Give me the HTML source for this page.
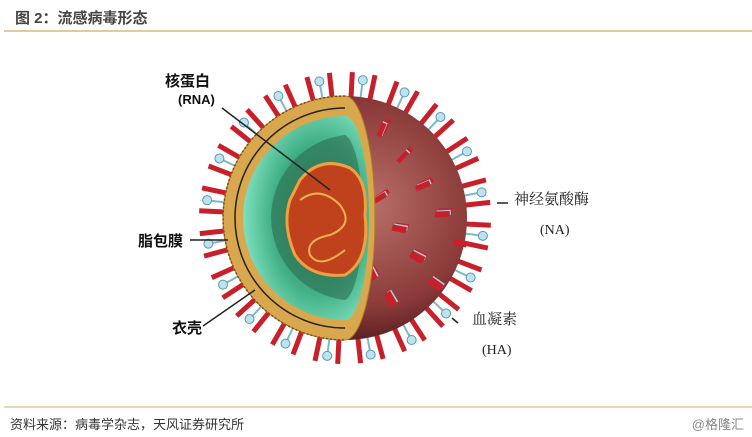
<!DOCTYPE html>
<html><head><meta charset="utf-8"><style>
html,body{margin:0;padding:0;background:#fff;}
body{width:752px;height:437px;position:relative;overflow:hidden;font-family:"Liberation Sans","Noto Sans CJK SC",sans-serif;}
.t{position:absolute;white-space:nowrap;}
</style></head><body>
<div class="t" style="left:15px;top:7px;font-size:15px;font-weight:bold;color:#444;">图 2：流感病毒形态</div>
<div style="position:absolute;left:4px;top:30px;width:748px;height:2px;background:#e2c9a0;"></div>
<div style="position:absolute;left:4px;top:406px;width:748px;height:2px;background:#e8d6b0;"></div>
<div class="t" style="left:10px;top:414px;font-size:13px;color:#333;">资料来源：病毒学杂志，天风证券研究所</div>
<div class="t" style="right:8px;top:414px;font-size:13px;color:#888;">@格隆汇</div>
<svg width="752" height="437" style="position:absolute;left:0;top:0" id="s">
<defs>
<radialGradient id="sph" cx="0.6" cy="0.45" r="0.6"><stop offset="0" stop-color="#b8706a"/><stop offset="0.7" stop-color="#8a3a38"/><stop offset="1" stop-color="#4a171a"/></radialGradient>
<radialGradient id="grn" cx="0.6" cy="0.5" r="0.6"><stop offset="0" stop-color="#2f7a5a"/><stop offset="0.6" stop-color="#3fae84"/><stop offset="1" stop-color="#7fe0be"/></radialGradient>
</defs>
<g id="spikes"></g>
<circle cx="345" cy="218" r="122" fill="url(#sph)"/>
<g id="spikes2"></g>
<path d="M345,96 A122,122 0 0 0 345,340 A30,122 0 0 0 345,96 Z" fill="#d9a84e" stroke="#b07a2a" stroke-width="1"/>
<path d="M345,96 A122,122 0 0 0 345,340" fill="none" stroke="#7a4a10" stroke-width="1.5" stroke-dasharray="2 2"/>
<path d="M345,108 A110,110 0 0 0 345,328" fill="none" stroke="#222" stroke-width="1.5"/>
<path d="M345,116 A102,102 0 0 0 345,320 A24,102 0 0 0 345,116 Z" fill="url(#grn)"/>
<path d="M345,135 A83,83 0 0 0 345,300 A20,83 0 0 0 345,135 Z" fill="#2d6e50" opacity="0.6"/>
<path d="M300,180 Q320,155 350,168 Q368,180 365,215 Q370,260 345,275 Q310,278 295,255 Q282,225 290,200 Z" fill="#c0421c" stroke="#f0a040" stroke-width="3"/>
<path d="M300,200 q20,-15 40,5 q15,20 -10,30 q-25,5 -20,20 q10,15 35,-5" fill="none" stroke="#f5b050" stroke-width="2"/>
<g stroke="#222" stroke-width="1.5" fill="none">
<line x1="222" y1="108" x2="330" y2="190"/>
<line x1="190" y1="240" x2="228" y2="240"/>
<line x1="203" y1="326" x2="255" y2="290"/>
<line x1="497" y1="203" x2="508" y2="203"/>
<line x1="452" y1="318" x2="458" y2="323"/>
</g>
<g font-family="Liberation Sans,Noto Sans CJK SC,sans-serif" fill="#111" font-size="15">
<text x="165" y="86" font-weight="bold">核蛋白</text>
<text x="178" y="104" font-weight="bold" font-size="13">(RNA)</text>
<text x="138" y="246" font-weight="bold">脂包膜</text>
<text x="172" y="333" font-weight="bold">衣壳</text>
<text x="514" y="204" font-family="Noto Serif CJK SC,serif" fill="#222">神经氨酸酶</text>
<text x="540" y="234" font-family="Liberation Serif,serif" font-size="14" fill="#222">(NA)</text>
<text x="472" y="324" font-family="Noto Serif CJK SC,serif" fill="#222">血凝素</text>
<text x="482" y="354" font-family="Liberation Serif,serif" font-size="14" fill="#222">(HA)</text>
</g>
</svg>
<script>
var ns="http://www.w3.org/2000/svg",g=document.getElementById("spikes"),cx=345,cy=218;
for(var i=0;i<40;i++){var a=i*Math.PI*2/40+0.05;
 var l=document.createElementNS(ns,"line");
 l.setAttribute("x1",cx+115*Math.cos(a));l.setAttribute("y1",cy+115*Math.sin(a));
 l.setAttribute("x2",cx+146*Math.cos(a));l.setAttribute("y2",cy+146*Math.sin(a));
 l.setAttribute("stroke","#c8202a");l.setAttribute("stroke-width","5");g.appendChild(l);
 if(i%2==0){var b=a+Math.PI/40;
  var s=document.createElementNS(ns,"line");
  s.setAttribute("x1",cx+118*Math.cos(b));s.setAttribute("y1",cy+118*Math.sin(b));
  s.setAttribute("x2",cx+136*Math.cos(b));s.setAttribute("y2",cy+136*Math.sin(b));
  s.setAttribute("stroke","#7ab8cc");s.setAttribute("stroke-width","2");g.appendChild(s);
  var c=document.createElementNS(ns,"circle");
  c.setAttribute("cx",cx+139*Math.cos(b));c.setAttribute("cy",cy+139*Math.sin(b));c.setAttribute("r","4.5");
  c.setAttribute("fill","#bfe3ee");c.setAttribute("stroke","#5a9ab0");g.appendChild(c);}}
var g2=document.getElementById("spikes2");
for(var j=0;j<80;j++){var x=365+((j*37)%105),y=105+((j*53)%225);
 var dx=x-cx,dy=y-cy,d=Math.sqrt(dx*dx+dy*dy);if(d>112||d<30)continue;
 var r=document.createElementNS(ns,"line");r.setAttribute("x1",x);r.setAttribute("y1",y);
 r.setAttribute("x2",x+14*dx/(d+1));r.setAttribute("y2",y+14*dy/(d+1));
 r.setAttribute("stroke",j%4==0?"#a8d4e2":"#c8202a");r.setAttribute("stroke-width","5");g2.appendChild(r);}
</script>
</body></html>
